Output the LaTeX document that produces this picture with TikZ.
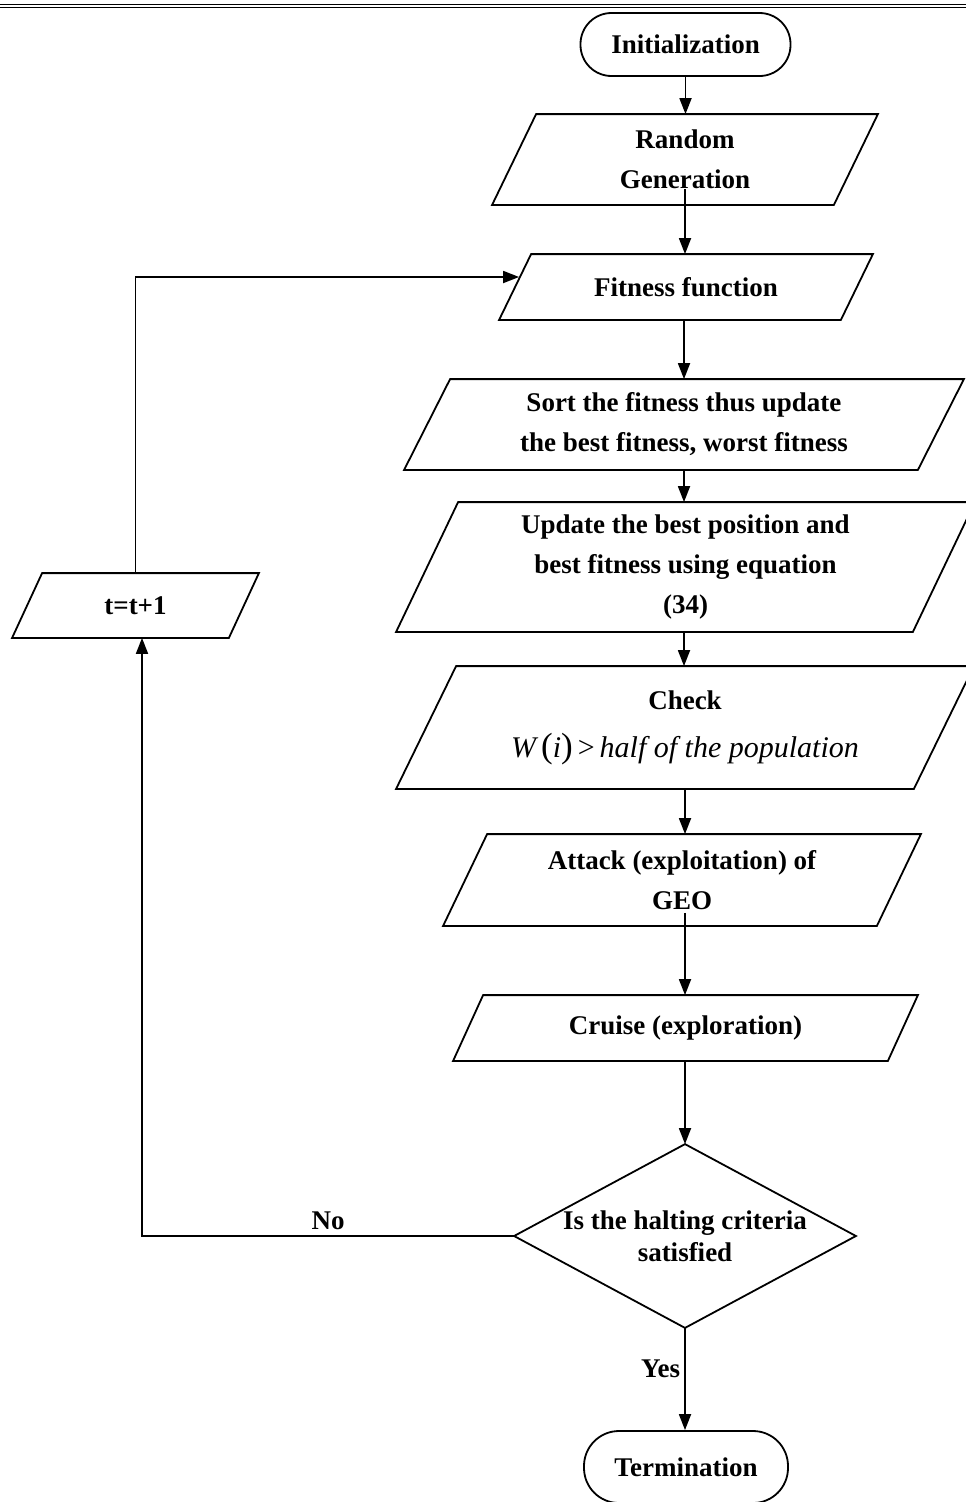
\documentclass[tikz,border=0pt]{standalone}
\usepackage{fontspec}
\setmainfont{Liberation Serif}
\usetikzlibrary{arrows.meta,calc}
\newcommand\paraoutline[2]{\draw ([xshift=#2]#1.north west) -- (#1.north east) -- ([xshift=-#2]#1.south east) -- (#1.south west) -- cycle;}
\begin{document}
\begin{tikzpicture}[x=1pt,y=-1pt,
  line width=1.8pt,
  box/.style={draw=none, inner sep=0pt, align=center, font=\fontsize{27}{40}\selectfont\bfseries},
  termbox/.style={draw, rectangle, rounded corners=31pt, inner sep=0pt, minimum width=210pt, minimum height=63pt, font=\fontsize{27}{32}\selectfont\bfseries},
  arr/.style={-{Triangle[length=16pt,width=12pt]}},
  lbl/.style={font=\fontsize{27}{32}\selectfont\bfseries, inner sep=4pt}
]
\useasboundingbox (0,0) rectangle (966,1502);
% top page rule
\draw[line width=0.9pt] (0,4.5) -- (966,4.5);
\draw[line width=0.9pt] (0,7.8) -- (966,7.8);

\node[termbox] (init) at (685.5,44.5) {Initialization};

\node[box, minimum width=384pt, minimum height=89pt] (gen) at (685,159.5) {Random\\Generation};
\paraoutline{gen}{44pt}

\node[box, minimum width=372pt, minimum height=64pt] (fit) at (686,287) {Fitness function};
\paraoutline{fit}{32pt}

\node[box, minimum width=558pt, minimum height=89pt] (sort) at (684,424.5) {Sort the fitness thus update\\the best fitness, worst fitness};
\paraoutline{sort}{46pt}

\node[box, minimum width=577pt, minimum height=128pt] (upd) at (685.5,567) {Update the best position and\\best fitness using equation\\(34)};
\paraoutline{upd}{62pt}

\node[box, minimum width=576pt, minimum height=121pt] (chk) at (685,727.5) {Check\\[8pt]{\normalfont\itshape\fontsize{30}{34}\selectfont W\,{\upshape\fontsize{35}{34}\selectfont(}i{\upshape\fontsize{35}{34}\selectfont)}\,{\upshape>}\,half of the population}};
\paraoutline{chk}{60pt}

\node[box, minimum width=476pt, minimum height=90pt] (att) at (682,880) {Attack (exploitation) of\\GEO};
\paraoutline{att}{44pt}

\node[box, minimum width=463pt, minimum height=64pt] (cru) at (685.5,1028) {Cruise (exploration)};
\paraoutline{cru}{30pt}

\node[box, font=\fontsize{27}{32}\selectfont\bfseries, minimum width=340pt, minimum height=182pt] (dec) at (685,1236) {\raisebox{-4pt}{Is the halting criteria}\\\raisebox{-4pt}{satisfied}};
\draw (dec.north) -- (dec.east) -- (dec.south) -- (dec.west) -- cycle;

\node[termbox, minimum width=204pt, minimum height=72pt, rounded corners=35pt] (term) at (686,1467) {Termination};

\node[box, minimum width=245pt, minimum height=63pt] (tt) at (135.5,605.5) {t=t+1};
\paraoutline{tt}{30pt}

% connectors
\draw[arr] (init.south) -- (init.south |- gen.north);
\draw[arr] ([yshift=16pt]gen.south) -- (gen.south |- fit.north);
\draw[arr] (fit.south -| sort.north) -- (sort.north);
\draw[arr] (sort.south) -- (sort.south |- upd.north);
\draw[arr] (upd.south -| sort.south) -- (sort.south |- chk.north);
\draw[arr] (chk.south) -- (chk.south |- att.north);
\draw[arr] ([yshift=13pt]att.south -| chk.south) -- (chk.south |- cru.north);
\draw[arr] (cru.south -| dec.north) -- (dec.north);
\draw[arr] (dec.south) -- (term.north -| dec.south) node[pos=0.4, left, lbl] {Yes};
\draw[arr] (dec.west) -| ([xshift=6.5pt]tt.south) node[pos=0.25, above, lbl, yshift=1pt] {No};
\draw[arr] (tt.north) |- ([xshift=20pt,yshift=10pt]fit.west);
\end{tikzpicture}
\end{document}
